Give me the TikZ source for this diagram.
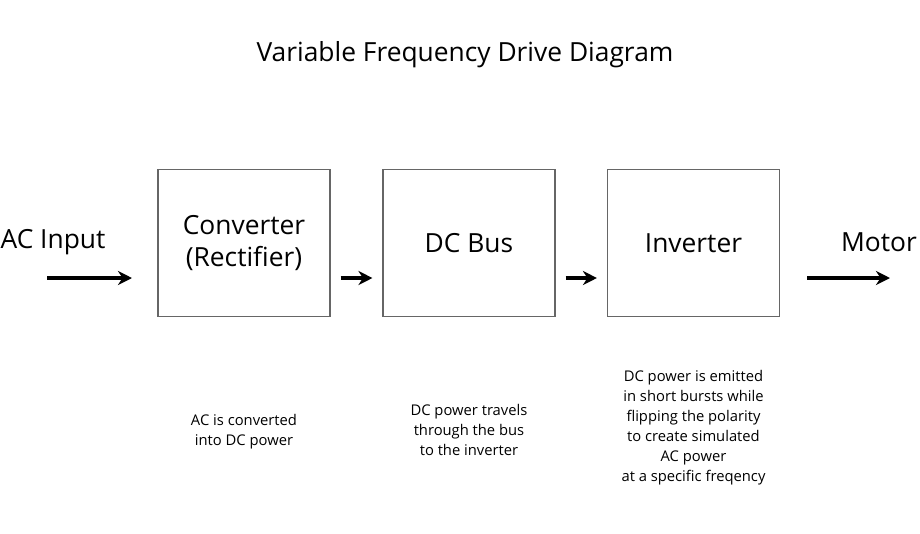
\documentclass[tikz,border=0pt]{standalone}
\usepackage{fontspec}
\setmainfont{Open Sans}
\usetikzlibrary{arrows.meta}
\tikzset{
  stage/.style={draw=black!60, line width=0.3pt, minimum width=1.72cm, minimum height=1.47cm, inner sep=0pt, align=center, font=\fontsize{7.5}{9}\selectfont},
  flow/.style={line width=0.9pt, -{Stealth[length=4pt, width=4pt]}},
  note/.style={align=center, font=\fontsize{4.2}{5.7}\selectfont},
  side/.style={font=\fontsize{7.5}{9}\selectfont}
}
\begin{document}
\begin{tikzpicture}
\useasboundingbox (0,0) rectangle (9.20,5.33);
\node[font=\fontsize{7.5}{9}\selectfont] (title) at (4.65,4.78) {Variable Frequency Drive Diagram};

\node[stage] (conv) at (2.44,2.90) {Converter\\(Rectifier)};
\node[stage] (bus) at (4.69,2.90) {DC Bus};
\node[stage] (inv) at (6.935,2.90) {Inverter};

\node[side] (acin) at (0.53,2.91) {AC Input};
\node[side] (motor) at (8.79,2.91) {Motor};

\coordinate (a0) at (0.47,2.55);
\coordinate (a1) at (1.32,2.55);
\coordinate (m0) at (8.07,2.55);
\coordinate (m1) at (8.90,2.55);
\draw[flow] (a0) -- (a1);
\draw[flow] ([xshift=0.10cm,yshift=-0.35cm]conv.east) -- ([xshift=-0.10cm,yshift=-0.35cm]bus.west);
\draw[flow] ([xshift=0.10cm,yshift=-0.35cm]bus.east) -- ([xshift=-0.10cm,yshift=-0.35cm]inv.west);
\draw[flow] (m0) -- (m1);

\node[note] (n1) at (2.44,1.01) {AC is converted\\into DC power};
\node[note] (n2) at (4.69,1.03) {DC power travels\\through the bus\\to the inverter};
\node[note] (n3) at (6.935,1.05) {DC power is emitted\\in short bursts while\\flipping the polarity\\to create simulated\\AC power\\at a specific freqency};
\end{tikzpicture}
\end{document}
